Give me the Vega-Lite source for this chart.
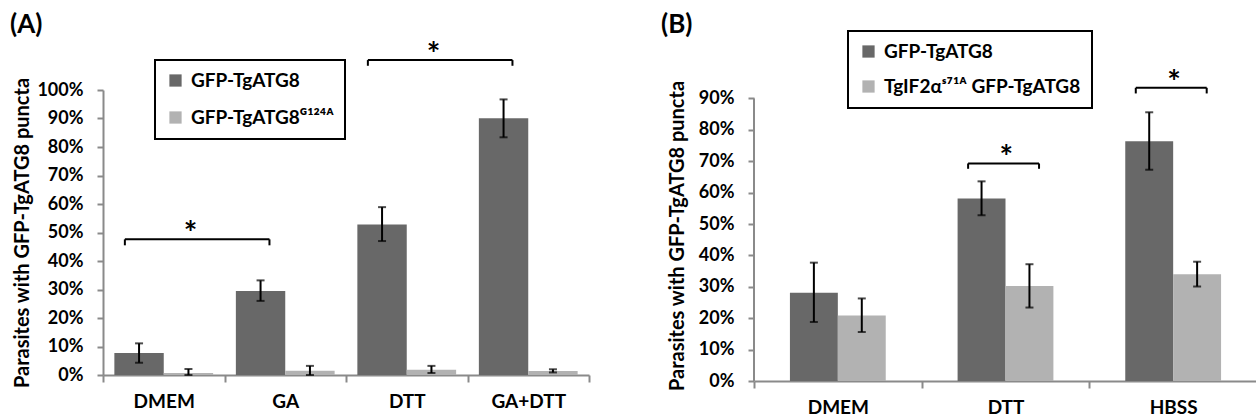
{
  "$schema": "https://vega.github.io/schema/vega-lite/v6.json",
  "background": "white",
  "padding": {"left": 10, "top": 12, "right": 0, "bottom": 0},
  "spacing": 71,
  "resolve": {"scale": {"color": "independent", "xOffset": "independent", "x": "independent", "y": "independent"}, "legend": {"color": "independent"}},
  "config": {
    "font": "Lato, DejaVu Sans",
    "view": {"stroke": null},
    "axis": {
      "domainColor": "#8a8a8a", "domainWidth": 2, "tickColor": "#8a8a8a", "tickWidth": 2,
      "labelFont": "Lato, DejaVu Sans", "labelFontWeight": "bold", "labelColor": "black", "labelOverlap": false,
      "titleFont": "Lato, DejaVu Sans", "titleFontWeight": "bold", "titleColor": "black", "grid": false
    },
    "axisQuantitative": {"labelOverlap": false},
    "axisY": {"tickSize": 6, "labelPadding": 14, "labelFontSize": 18, "titleFontSize": 20, "titlePadding": 4, "labelOverlap": false, "tickCount": 10, "labelSeparation": -10},
    "axisX": {"tickSize": 7, "labelPadding": 10, "labelFontSize": 19, "labelAngle": 0, "tickBand": "extent"},
    "legend": {"strokeWidth": 2},
    "title": {"font": "Lato, DejaVu Sans", "fontWeight": "bold", "color": "black"}
  },
  "datasets": {
    "a": [
      {"condition": "DMEM", "series": "GFP-TgATG8", "value": 0.077, "lo": 0.043, "hi": 0.111},
      {"condition": "DMEM", "series": "GFP-TgATG8ᴳ¹²⁴ᴬ", "value": 0.007, "lo": 0.0, "hi": 0.021},
      {"condition": "GA", "series": "GFP-TgATG8", "value": 0.295, "lo": 0.26, "hi": 0.332},
      {"condition": "GA", "series": "GFP-TgATG8ᴳ¹²⁴ᴬ", "value": 0.015, "lo": 0.0, "hi": 0.032},
      {"condition": "DTT", "series": "GFP-TgATG8", "value": 0.528, "lo": 0.47, "hi": 0.589},
      {"condition": "DTT", "series": "GFP-TgATG8ᴳ¹²⁴ᴬ", "value": 0.018, "lo": 0.007, "hi": 0.032},
      {"condition": "GA+DTT", "series": "GFP-TgATG8", "value": 0.901, "lo": 0.834, "hi": 0.967},
      {"condition": "GA+DTT", "series": "GFP-TgATG8ᴳ¹²⁴ᴬ", "value": 0.014, "lo": 0.009, "hi": 0.02}
    ],
    "b": [
      {"condition": "DMEM", "series": "GFP-TgATG8", "value": 0.281, "lo": 0.188, "hi": 0.377},
      {"condition": "DMEM", "series": "TgIF2αˢ⁷¹ᴬ GFP-TgATG8", "value": 0.209, "lo": 0.156, "hi": 0.263},
      {"condition": "DTT", "series": "GFP-TgATG8", "value": 0.581, "lo": 0.528, "hi": 0.636},
      {"condition": "DTT", "series": "TgIF2αˢ⁷¹ᴬ GFP-TgATG8", "value": 0.303, "lo": 0.234, "hi": 0.372},
      {"condition": "HBSS", "series": "GFP-TgATG8", "value": 0.764, "lo": 0.673, "hi": 0.856},
      {"condition": "HBSS", "series": "TgIF2αˢ⁷¹ᴬ GFP-TgATG8", "value": 0.34, "lo": 0.301, "hi": 0.38}
    ],
    "brA": [
      {"from": "DMEM", "to": "GA", "level": 0.476, "end": 0.455},
      {"from": "DTT", "to": "GA+DTT", "level": 1.105, "end": 1.085}
    ],
    "brB": [
      {"from": "DTT", "to": "DTT", "level": 0.693, "end": 0.676},
      {"from": "HBSS", "to": "HBSS", "level": 0.934, "end": 0.916}
    ],
    "axisB": [
      {"condition": "DMEM", "lo": 0, "hi": 0.9}
    ]
  },
  "hconcat": [
    {
      "width": 486, "height": 285,
      "title": {"text": "(A)", "anchor": "start", "frame": "group", "dx": -93, "fontSize": 26, "offset": 2},
      "layer": [
        {
          "data": {"name": "a"},
          "mark": {"type": "bar"},
          "encoding": {
            "x": {"field": "condition", "type": "nominal", "scale": {"domain": ["DMEM", "GA", "DTT", "GA+DTT"], "paddingInner": 0, "paddingOuter": 0}, "axis": {"title": null}},
            "xOffset": {"field": "series", "type": "nominal", "scale": {"domain": ["GFP-TgATG8", "GFP-TgATG8ᴳ¹²⁴ᴬ"], "paddingInner": 0, "paddingOuter": 0.23}},
            "y": {"field": "value", "type": "quantitative", "scale": {"domain": [0, 1], "nice": false}, "axis": {"title": "Parasites with GFP-TgATG8 puncta", "format": ".0%", "labelOverlap": false, "tickCount": 10, "labelSeparation": -10}},
            "color": {"field": "series", "type": "nominal", "scale": {"domain": ["GFP-TgATG8", "GFP-TgATG8ᴳ¹²⁴ᴬ"], "range": ["#686868", "#b2b2b2"]},
              "legend": {"orient": "none", "legendX": 52, "legendY": -30, "title": null, "padding": 11, "rowPadding": 17, "symbolType": "square", "symbolSize": 150, "symbolStrokeWidth": 0, "labelFontSize": 19, "labelFontWeight": "bold", "labelColor": "black", "labelOffset": 6, "labelLimit": 400, "strokeColor": "black", "fillColor": "white"}}
          }
        },
        {
          "data": {"name": "a"},
          "mark": {"type": "rule", "color": "black", "strokeWidth": 2},
          "encoding": {
            "x": {"field": "condition", "type": "nominal"},
            "xOffset": {"field": "series", "type": "nominal"},
            "y": {"field": "lo", "type": "quantitative"},
            "y2": {"field": "hi"}
          }
        },
        {
          "data": {"name": "a"},
          "mark": {"type": "tick", "color": "black", "thickness": 2, "size": 8, "orient": "horizontal"},
          "encoding": {
            "x": {"field": "condition", "type": "nominal"},
            "xOffset": {"field": "series", "type": "nominal"},
            "y": {"field": "hi", "type": "quantitative"}
          }
        },
        {
          "data": {"name": "a"},
          "mark": {"type": "tick", "color": "black", "thickness": 2, "size": 8, "orient": "horizontal"},
          "encoding": {
            "x": {"field": "condition", "type": "nominal"},
            "xOffset": {"field": "series", "type": "nominal"},
            "y": {"field": "lo", "type": "quantitative"}
          }
        },
        {
          "data": {"name": "brA"},
          "mark": {"type": "rule", "color": "black", "strokeWidth": 2},
          "encoding": {
            "x": {"field": "from", "type": "nominal", "bandPosition": 0.18},
            "x2": {"field": "to", "bandPosition": 0.37},
            "y": {"field": "level", "type": "quantitative"}
          }
        },
        {
          "data": {"name": "brA"},
          "mark": {"type": "rule", "color": "black", "strokeWidth": 2},
          "encoding": {
            "x": {"field": "from", "type": "nominal", "bandPosition": 0.18},
            "y": {"field": "level", "type": "quantitative"},
            "y2": {"field": "end"}
          }
        },
        {
          "data": {"name": "brA"},
          "mark": {"type": "rule", "color": "black", "strokeWidth": 2},
          "encoding": {
            "x": {"field": "to", "type": "nominal", "bandPosition": 0.37},
            "y": {"field": "level", "type": "quantitative"},
            "y2": {"field": "end"}
          }
        },
        {
          "data": {"name": "brA"},
          "mark": {"type": "text", "text": "*", "fontSize": 32, "fontWeight": "bold", "color": "black", "baseline": "middle", "dy": -4},
          "encoding": {
            "x": {"field": "from", "type": "nominal", "bandPosition": 0.72},
            "y": {"field": "level", "type": "quantitative"}
          }
        }
      ]
    },
    {
      "width": 503, "height": 291,
      "title": {"text": "(B)", "anchor": "start", "frame": "group", "dx": -93, "fontSize": 26, "offset": -8},
      "layer": [
        {
          "data": {"name": "b"},
          "mark": {"type": "bar"},
          "encoding": {
            "x": {"field": "condition", "type": "nominal", "scale": {"domain": ["DMEM", "DTT", "HBSS"], "paddingInner": 0, "paddingOuter": 0}, "axis": {"title": null}},
            "xOffset": {"field": "series", "type": "nominal", "scale": {"domain": ["GFP-TgATG8", "TgIF2αˢ⁷¹ᴬ GFP-TgATG8"], "paddingInner": 0, "paddingOuter": 0.75}},
            "y": {"field": "value", "type": "quantitative", "scale": {"domain": [0, 0.927], "nice": false}, "axis": {"title": "Parasites with GFP-TgATG8 puncta", "values": [0, 0.1, 0.2, 0.3, 0.4, 0.5, 0.6, 0.7, 0.8, 0.9], "format": ".0%", "domain": false, "titlePadding": 11, "labelOverlap": false, "tickCount": 10}},
            "color": {"field": "series", "type": "nominal", "scale": {"domain": ["GFP-TgATG8", "TgIF2αˢ⁷¹ᴬ GFP-TgATG8"], "range": ["#686868", "#b2b2b2"]},
              "legend": {"orient": "none", "legendX": 94, "legendY": -59, "title": null, "padding": 11, "rowPadding": 15, "symbolType": "square", "symbolSize": 150, "symbolStrokeWidth": 0, "labelFontSize": 19, "labelFontWeight": "bold", "labelColor": "black", "labelOffset": 6, "labelLimit": 400, "strokeColor": "black", "fillColor": "white"}}
          }
        },
        {
          "data": {"name": "axisB"},
          "mark": {"type": "rule", "color": "#8a8a8a", "strokeWidth": 2},
          "encoding": {
            "x": {"field": "condition", "type": "nominal", "bandPosition": 0},
            "y": {"field": "lo", "type": "quantitative"},
            "y2": {"field": "hi"}
          }
        },
        {
          "data": {"name": "b"},
          "mark": {"type": "rule", "color": "black", "strokeWidth": 2},
          "encoding": {
            "x": {"field": "condition", "type": "nominal"},
            "xOffset": {"field": "series", "type": "nominal"},
            "y": {"field": "lo", "type": "quantitative"},
            "y2": {"field": "hi"}
          }
        },
        {
          "data": {"name": "b"},
          "mark": {"type": "tick", "color": "black", "thickness": 2, "size": 8, "orient": "horizontal"},
          "encoding": {
            "x": {"field": "condition", "type": "nominal"},
            "xOffset": {"field": "series", "type": "nominal"},
            "y": {"field": "hi", "type": "quantitative"}
          }
        },
        {
          "data": {"name": "b"},
          "mark": {"type": "tick", "color": "black", "thickness": 2, "size": 8, "orient": "horizontal"},
          "encoding": {
            "x": {"field": "condition", "type": "nominal"},
            "xOffset": {"field": "series", "type": "nominal"},
            "y": {"field": "lo", "type": "quantitative"}
          }
        },
        {
          "data": {"name": "brB"},
          "mark": {"type": "rule", "color": "black", "strokeWidth": 2},
          "encoding": {
            "x": {"field": "from", "type": "nominal", "bandPosition": 0.277},
            "x2": {"field": "to", "bandPosition": 0.70},
            "y": {"field": "level", "type": "quantitative"}
          }
        },
        {
          "data": {"name": "brB"},
          "mark": {"type": "rule", "color": "black", "strokeWidth": 2},
          "encoding": {
            "x": {"field": "from", "type": "nominal", "bandPosition": 0.277},
            "y": {"field": "level", "type": "quantitative"},
            "y2": {"field": "end"}
          }
        },
        {
          "data": {"name": "brB"},
          "mark": {"type": "rule", "color": "black", "strokeWidth": 2},
          "encoding": {
            "x": {"field": "to", "type": "nominal", "bandPosition": 0.70},
            "y": {"field": "level", "type": "quantitative"},
            "y2": {"field": "end"}
          }
        },
        {
          "data": {"name": "brB"},
          "mark": {"type": "text", "text": "*", "fontSize": 32, "fontWeight": "bold", "color": "black", "baseline": "middle", "dy": -4},
          "encoding": {
            "x": {"field": "from", "type": "nominal", "bandPosition": 0.505},
            "y": {"field": "level", "type": "quantitative"}
          }
        }
      ]
    }
  ]
}
